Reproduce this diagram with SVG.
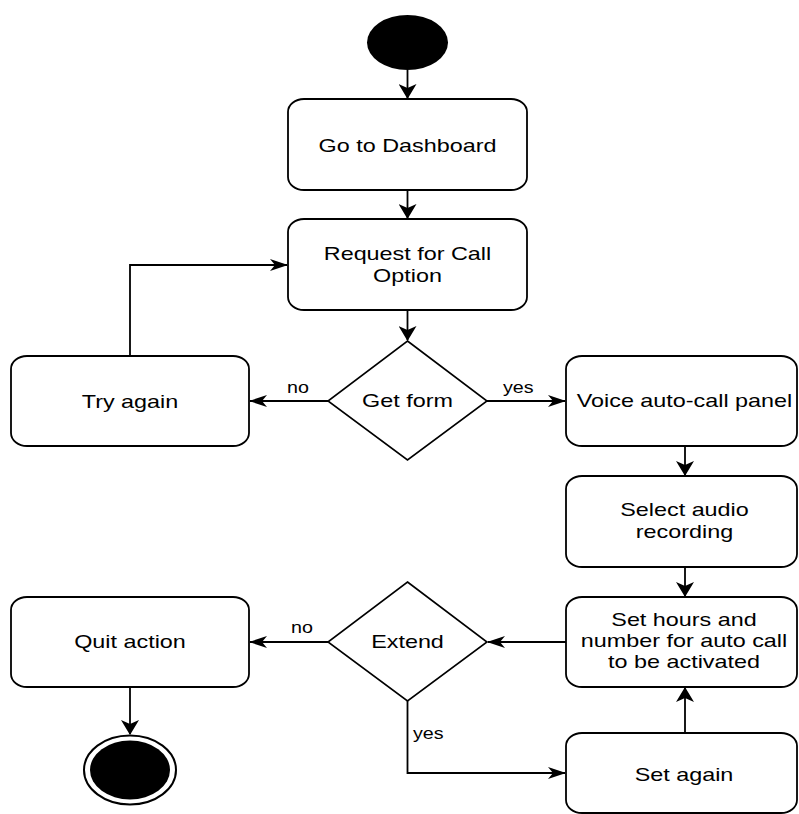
<svg xmlns="http://www.w3.org/2000/svg" width="799" height="814" viewBox="0 0 799 814">
  <style>
    .box { fill: #ffffff; stroke: #000000; stroke-width: 1.8; }
    .dia { fill: #ffffff; stroke: #000000; stroke-width: 1.6; }
    .edge { fill: none; stroke: #000000; stroke-width: 1.8; }
    .t { font-family: "Liberation Sans", Arial, Helvetica, sans-serif; font-size: 19px; fill: #000000; text-anchor: middle; }
    .lbl { font-family: "Liberation Sans", Arial, Helvetica, sans-serif; font-size: 16px; fill: #000000; }
  </style>
  <defs>
    <!-- arrowheads: horizontal runs get a longer, flatter head than vertical runs -->
    <marker id="arrowH" markerUnits="userSpaceOnUse" viewBox="0 0 18 12" markerWidth="18" markerHeight="12" refX="17" refY="6" orient="auto">
      <path d="M0,0 L18,6 L0,12 L5,6 Z" fill="#000000"/>
    </marker>
    <marker id="arrowV" markerUnits="userSpaceOnUse" viewBox="0 0 15 18" markerWidth="15" markerHeight="18" refX="14" refY="9" orient="auto">
      <path d="M0,0 L15,9 L0,18 L4,9 Z" fill="#000000"/>
    </marker>
  </defs>

  <rect width="799" height="814" fill="#ffffff"/>

  <!-- connectors -->
  <g id="connectors">
    <path class="edge" d="M407.5,70 L407.5,98" marker-end="url(#arrowV)"/>
    <path class="edge" d="M407.5,190 L407.5,218" marker-end="url(#arrowV)"/>
    <path class="edge" d="M407.5,310 L407.5,340" marker-end="url(#arrowV)"/>
    <path class="edge" d="M328,401 L250,401" marker-end="url(#arrowH)"/>
    <path class="edge" d="M487,401 L565,401" marker-end="url(#arrowH)"/>
    <path class="edge" d="M130,356 L130,265 L287,265" marker-end="url(#arrowH)"/>
    <path class="edge" d="M685,446 L685,475" marker-end="url(#arrowV)"/>
    <path class="edge" d="M685,567 L685,596" marker-end="url(#arrowV)"/>
    <path class="edge" d="M566,642 L488,642" marker-end="url(#arrowH)"/>
    <path class="edge" d="M328,642 L250,642" marker-end="url(#arrowH)"/>
    <path class="edge" d="M407.5,701 L407.5,773 L565,773" marker-end="url(#arrowH)"/>
    <path class="edge" d="M685,733 L685,688" marker-end="url(#arrowV)"/>
    <path class="edge" d="M130,687 L130,734" marker-end="url(#arrowV)"/>
    <text class="lbl" transform="translate(287,393) scale(1.23 1)">no</text>
    <text class="lbl" transform="translate(503,393) scale(1.23 1)">yes</text>
    <text class="lbl" transform="translate(291,633) scale(1.23 1)">no</text>
    <text class="lbl" transform="translate(413,739) scale(1.23 1)">yes</text>
  </g>

  <!-- start node -->
  <g id="start">
    <ellipse cx="407.5" cy="42.5" rx="40.5" ry="27.5" fill="#000000"/>
  </g>

  <g id="dashboard">
    <rect class="box" x="288" y="99" width="239" height="91" rx="16" ry="13"/>
    <text class="t" transform="translate(407.5,152) scale(1.23 1)">Go to Dashboard</text>
  </g>

  <g id="request">
    <rect class="box" x="288" y="219" width="239" height="91" rx="16" ry="13"/>
    <text class="t" transform="translate(407.5,260) scale(1.23 1)">Request for Call</text>
    <text class="t" transform="translate(407.5,282) scale(1.23 1)">Option</text>
  </g>

  <g id="get-form">
    <polygon class="dia" points="407.5,341 487,401 407.5,460 328,401"/>
    <text class="t" transform="translate(407.5,407) scale(1.23 1)">Get form</text>
  </g>

  <g id="try-again">
    <rect class="box" x="11" y="356" width="238" height="90" rx="16" ry="13"/>
    <text class="t" transform="translate(130,408) scale(1.23 1)">Try again</text>
  </g>

  <g id="voice-panel">
    <rect class="box" x="566" y="356" width="231" height="90" rx="16" ry="13"/>
    <text class="t" transform="translate(684.5,407) scale(1.23 1)">Voice auto-call panel</text>
  </g>

  <g id="select-audio">
    <rect class="box" x="566" y="476" width="231" height="91" rx="16" ry="13"/>
    <text class="t" transform="translate(684.5,516) scale(1.23 1)">Select audio</text>
    <text class="t" transform="translate(684.5,538) scale(1.23 1)">recording</text>
  </g>

  <g id="set-hours">
    <rect class="box" x="566" y="597" width="231" height="90" rx="16" ry="13"/>
    <text class="t" transform="translate(684,626) scale(1.23 1)">Set hours and</text>
    <text class="t" transform="translate(684,647) scale(1.23 1)">number for auto call</text>
    <text class="t" transform="translate(684,668) scale(1.23 1)">to be activated</text>
  </g>

  <g id="extend">
    <polygon class="dia" points="407.5,582 487,642 407.5,701 328,642"/>
    <text class="t" transform="translate(407.5,648) scale(1.23 1)">Extend</text>
  </g>

  <g id="quit-action">
    <rect class="box" x="11" y="597" width="238" height="90" rx="16" ry="13"/>
    <text class="t" transform="translate(130,648) scale(1.23 1)">Quit action</text>
  </g>

  <g id="set-again">
    <rect class="box" x="566" y="733" width="231" height="80" rx="16" ry="13"/>
    <text class="t" transform="translate(684,781) scale(1.23 1)">Set again</text>
  </g>

  <!-- end node -->
  <g id="end">
    <ellipse cx="130" cy="770" rx="46" ry="34.5" fill="#ffffff" stroke="#000000" stroke-width="2"/>
    <ellipse cx="130" cy="770" rx="40" ry="29.5" fill="#000000"/>
  </g>
</svg>
